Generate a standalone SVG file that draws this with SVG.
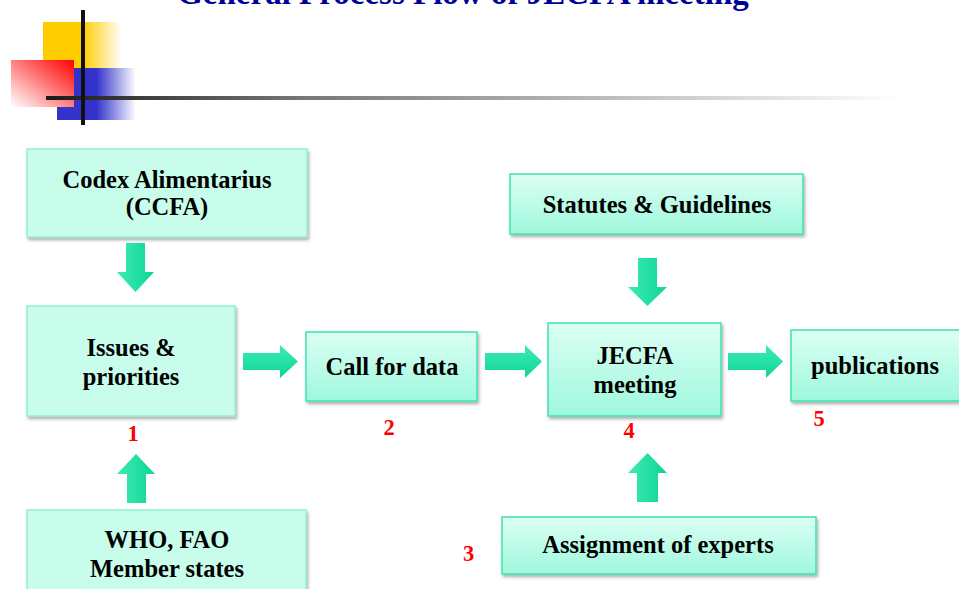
<svg xmlns="http://www.w3.org/2000/svg" width="959" height="589" viewBox="0 0 959 589">
<defs>
<style>
.t{font-family:"Liberation Serif","Times New Roman",serif;font-weight:bold;font-size:24.5px;fill:#000;text-anchor:middle}
.n{font-family:"Liberation Serif","Times New Roman",serif;font-weight:bold;font-size:22.5px;fill:#ff0000;text-anchor:middle}
.bx{fill:url(#boxg);stroke:#3fe2b2;stroke-width:1.5;filter:url(#sh)}
.bf{fill:#c8fdec;stroke:#92f0cf;stroke-width:1.5;filter:url(#sh)}
.ah{fill:url(#arrH)}
.av{fill:url(#arrV)}
</style>
<linearGradient id="boxg" x1="0" y1="0" x2="0" y2="1">
<stop offset="0" stop-color="#dcfff4"/>
<stop offset="1" stop-color="#9ef8dc"/>
</linearGradient>
<linearGradient id="arrH" x1="0" y1="0" x2="0" y2="1">
<stop offset="0" stop-color="#3cecb2"/>
<stop offset="1" stop-color="#0fd497"/>
</linearGradient>
<linearGradient id="arrV" x1="0" y1="0" x2="1" y2="0">
<stop offset="0" stop-color="#3cecb2"/>
<stop offset="1" stop-color="#0fd497"/>
</linearGradient>
<linearGradient id="yel" x1="0" y1="0" x2="1" y2="0">
<stop offset="0" stop-color="#ffcc00"/>
<stop offset="0.5" stop-color="#ffcc00"/>
<stop offset="1" stop-color="#ffcc00" stop-opacity="0"/>
</linearGradient>
<linearGradient id="blu" x1="0" y1="0" x2="1" y2="0">
<stop offset="0" stop-color="#3333cc"/>
<stop offset="0.5" stop-color="#3333cc"/>
<stop offset="1" stop-color="#3333cc" stop-opacity="0"/>
</linearGradient>
<linearGradient id="red" x1="1" y1="0" x2="0" y2="1">
<stop offset="0" stop-color="#ff0000"/>
<stop offset="1" stop-color="#ffffff"/>
</linearGradient>
<linearGradient id="hline" x1="46" y1="0" x2="900" y2="0" gradientUnits="userSpaceOnUse">
<stop offset="0" stop-color="#1a1a1a"/>
<stop offset="0.3" stop-color="#777777"/>
<stop offset="1" stop-color="#ffffff"/>
</linearGradient>
<filter id="sh" x="-10%" y="-10%" width="120%" height="130%">
<feDropShadow dx="1.5" dy="2.5" stdDeviation="1.5" flood-color="#000" flood-opacity="0.3"/>
</filter>
</defs>

<g id="title">
<text x="463" y="4" style="font-family:'Liberation Serif','Times New Roman',serif;font-weight:bold;font-size:33px;fill:#000099;text-anchor:middle">General Process Flow of JECFA meeting</text>
</g>

<g id="logo">
<rect x="43" y="22" width="79" height="46" fill="url(#yel)"/>
<rect x="57" y="68" width="79" height="52" fill="url(#blu)"/>
<rect x="11" y="60" width="63" height="47" fill="url(#red)"/>
<rect x="46" y="96" width="854" height="4" fill="url(#hline)"/>
<rect x="81" y="10" width="4" height="115" fill="#111"/>
</g>

<g id="connectors">
<path class="av" d="M126,243 H145 V272 H154 L135.5,292 L117,272 H126 Z"/>
<path class="av" d="M638,258 H657 V287 H667 L647.5,306 L628,287 H638 Z"/>
<path class="av" d="M127,503 H146 V474 H155 L136,454 L117,474 H127 Z"/>
<path class="av" d="M637,502 H658 V473 H667 L647.5,453 L628,473 H637 Z"/>
<path class="ah" d="M243,353 H280 V345 L298,361.5 L280,378 V370 H243 Z"/>
<path class="ah" d="M485,353 H525 V345 L542,361.5 L525,378 V370 H485 Z"/>
<path class="ah" d="M728,353 H766 V345 L783,361.5 L766,378 V370 H728 Z"/>
</g>

<g id="codex">
<rect class="bf" x="27" y="149" width="280" height="88"/>
<text class="t" x="167" y="188">Codex Alimentarius</text>
<text class="t" x="167" y="215">(CCFA)</text>
</g>

<g id="issues">
<rect class="bf" x="27" y="306" width="208" height="110"/>
<text class="t" x="131" y="356">Issues &amp;</text>
<text class="t" x="131" y="385">priorities</text>
</g>

<g id="who">
<rect class="bf" x="27" y="510" width="279" height="90"/>
<text class="t" x="167" y="548">WHO, FAO</text>
<text class="t" x="167" y="577">Member states</text>
</g>

<g id="call">
<rect class="bx" x="306" y="332" width="171" height="69"/>
<text class="t" x="392" y="375">Call for data</text>
</g>

<g id="statutes">
<rect class="bx" x="510" y="174" width="293" height="60"/>
<text class="t" x="657" y="213">Statutes &amp; Guidelines</text>
</g>

<g id="jecfa">
<rect class="bx" x="548" y="323" width="173" height="93"/>
<text class="t" x="635" y="364">JECFA</text>
<text class="t" x="635" y="393">meeting</text>
</g>

<g id="publications">
<rect class="bx" x="791" y="330" width="170" height="71"/>
<text class="t" x="875" y="374">publications</text>
</g>

<g id="assignment">
<rect class="bx" x="502" y="517" width="314" height="57"/>
<text class="t" x="658" y="553">Assignment of experts</text>
</g>

<g id="numbers">
<text class="n" x="133" y="441">1</text>
<text class="n" x="389" y="435">2</text>
<text class="n" x="468.5" y="561">3</text>
<text class="n" x="629" y="438">4</text>
<text class="n" x="819" y="426">5</text>
</g>
</svg>
